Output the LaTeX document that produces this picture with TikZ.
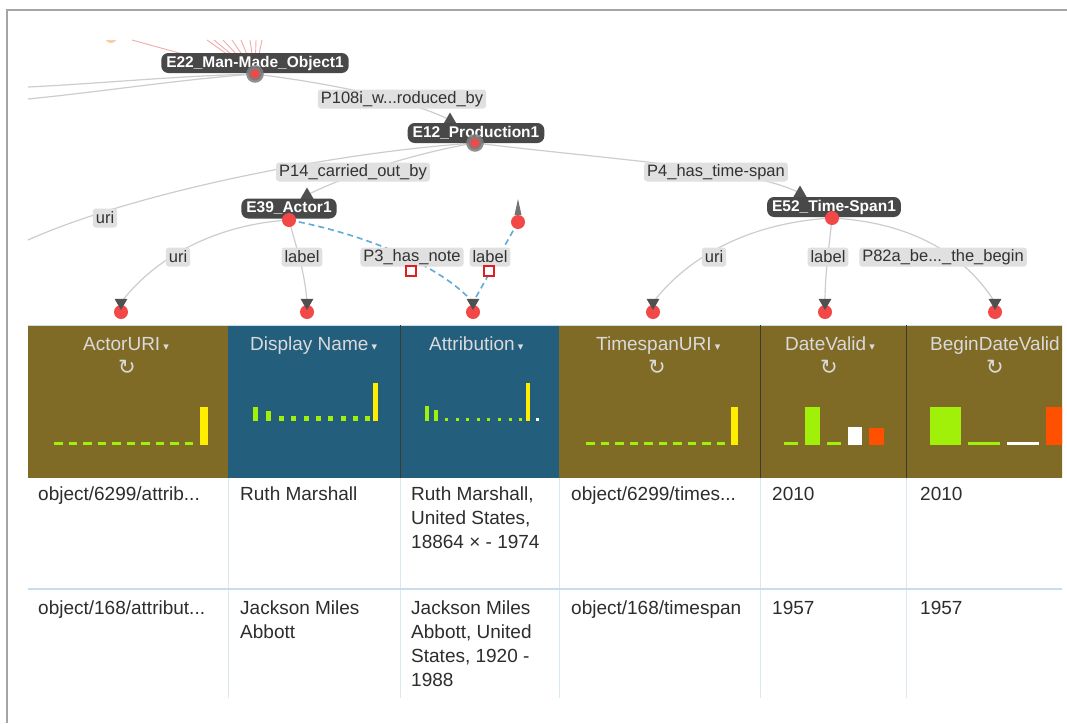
\documentclass[tikz,border=0pt]{standalone}
\usepackage{fontspec}
\setmainfont{Liberation Sans}
\newfontfamily\dejavu{DejaVu Sans}
\usetikzlibrary{shapes.geometric}
\definecolor{olivec}{RGB}{128,107,38}
\definecolor{bluec}{RGB}{35,94,124}
\definecolor{hgreen}{RGB}{160,240,10}
\definecolor{hyellow}{RGB}{255,238,0}
\definecolor{horange}{RGB}{255,80,0}
\definecolor{darklbl}{RGB}{72,72,72}
\definecolor{lblgray}{RGB}{224,224,224}
\definecolor{lbltext}{RGB}{50,50,50}
\definecolor{edgegray}{RGB}{205,205,205}
\definecolor{dotred}{RGB}{242,72,72}
\definecolor{ringgray}{RGB}{125,125,125}
\definecolor{tipgray}{RGB}{80,80,80}
\definecolor{dashblue}{RGB}{95,172,215}
\definecolor{sqred}{RGB}{225,30,30}
\definecolor{pinkc}{RGB}{245,170,170}
\definecolor{orangec}{RGB}{250,205,160}
\definecolor{hdrtext}{RGB}{218,218,218}
\definecolor{celltext}{RGB}{45,45,45}
\definecolor{gridc}{RGB}{218,232,242}
\definecolor{sepc}{RGB}{200,222,236}
\definecolor{divc}{RGB}{60,58,50}
\definecolor{framec}{RGB}{165,165,165}
\pgfdeclarelayer{bg}
\pgfdeclarelayer{edges}
\pgfsetlayers{bg,edges,main}
\begin{document}
\begin{tikzpicture}[x=1pt,y=-1pt,
  lbl/.style={fill=lblgray, rounded corners=3pt, text=lbltext, font=\fontsize{16.5}{16.5}\selectfont, inner xsep=3pt, inner ysep=1pt, minimum height=19pt},
  dlbl/.style={fill=darklbl, rounded corners=7pt, text=white, font=\bfseries\fontsize{15.5}{15.5}\selectfont, inner xsep=5pt, inner ysep=1pt, minimum height=20pt},
  rdot/.style={circle, fill=dotred, minimum size=14pt, inner sep=0pt},
  ringdot/.style={circle, fill=dotred, minimum size=13pt, inner sep=0pt, draw=ringgray, draw opacity=0.85, line width=4.5pt},
  uptri/.style={regular polygon, regular polygon sides=3, fill=tipgray, minimum size=15pt, inner sep=0pt},
  dntri/.style={uptri, shape border rotate=180},
  rsq/.style={draw=sqred, fill=white, line width=1.3pt, minimum size=10pt, inner sep=0pt},
  gedge/.style={draw=edgegray, line width=1.2pt},
  dedge/.style={draw=dashblue, line width=1.6pt, dash pattern=on 6pt off 4pt},
  pedge/.style={draw=pinkc, line width=0.9pt},
  htitle/.style={anchor=base west, text=hdrtext, font=\fontsize{19}{19}\selectfont, inner sep=0pt},
  hicon/.style={text=hdrtext, font=\dejavu\fontsize{21}{21}\selectfont, inner sep=0pt},
  cell/.style={anchor=north west, inner sep=0pt, text=celltext, font=\fontsize{19}{24}\selectfont, align=left}
]
\useasboundingbox (0,0) rectangle (1067,723);
\begin{pgfonlayer}{bg}
\fill[white] (0,0) rectangle (1067,723);
\end{pgfonlayer}

% frame
\draw[framec, line width=2.5pt] (7,723) -- (7,10) -- (1067,10);

% ---------- graph nodes ----------
\node[dlbl] (e22) at (255,63) {E22\_Man-Made\_Object1};
\node[ringdot] (dot22) at (255,74) {};
\node[lbl] (p108) at (402,99) {P108i\_w...roduced\_by};
\node[uptri] (t12) at (450,120) {};
\node[dlbl] (e12) at (476,133) {E12\_Production1};
\node[ringdot] (dot12) at (475,143) {};
\node[lbl] (p14) at (353,172) {P14\_carried\_out\_by};
\node[lbl] (p4) at (716,172) {P4\_has\_time-span};
\node[lbl] (uriA) at (105,218) {uri};
\node[uptri] (t39) at (307,195) {};
\node[dlbl] (e39) at (289,208.5) {E39\_Actor1};
\node[rdot] (dot39) at (289,220) {};
\node[uptri] (t52) at (800,193) {};
\node[dlbl] (e52) at (834,207) {E52\_Time-Span1};
\node[rdot] (dot52) at (832,218) {};
\fill[tipgray!80] (514.5,215) -- (518,199) -- (521.5,215) -- cycle;
\node[rdot] (dotx) at (518,222) {};

\node[lbl] (uriB) at (178,257) {uri};
\node[lbl] (labB) at (302,257) {label};
\node[lbl] (p3) at (412,257) {P3\_has\_note};
\node[lbl] (labC) at (490,257) {label};
\node[lbl] (uriD) at (714,257) {uri};
\node[lbl] (labD) at (828,257) {label};
\node[lbl] (p82) at (943,257) {P82a\_be...\_the\_begin};
\node[rsq] (sq1) at (411,271) {};
\node[rsq] (sq2) at (489,271) {};

\foreach \n/\x in {1/121,2/307,3/473,4/653,5/825,6/995}{
  \node[rdot] (b\n) at (\x,312) {};
  \node[dntri] (tb\n) at (\x,302.5) {};
}

\coordinate (lA) at (28,87);
\coordinate (lB) at (28,99);
\coordinate (lC) at (28,240);
\foreach \i/\x in {1/132,2/207,3/214,4/223,5/232,6/241,7/250,8/256,9/262}{
  \coordinate (pk\i) at (\x,40);
}
\coordinate (orb) at (111,37);

% ---------- graph edges ----------
\begin{pgfonlayer}{edges}
\fill[orangec] (orb) circle (6pt);
\fill[white] (90,20) rectangle (140,40);
\foreach \i in {1,...,9}{ \draw[pedge] (dot22.center) -- (pk\i); }
\draw[gedge] (dot22.center) .. controls +(-80,2) and +(80,-4) .. (lA);
\draw[gedge] (dot22.center) .. controls +(-80,6) and +(80,-8) .. (lB);
\draw[gedge] (dot22.center) .. controls +(80,10) and +(-40,-20) .. (t12.center);
\draw[gedge] (dot12.center) .. controls +(-150,10) and +(100,-45) .. (lC);
\draw[gedge] (dot12.center) .. controls +(-60,10) and +(40,-20) .. (t39.center);
\draw[gedge] (dot12.center) .. controls +(150,18) and +(-50,-25) .. (t52.center);
\draw[gedge] (dot39.center) .. controls +(-80,5) and +(30,-40) .. (tb1.center);
\draw[gedge] (dot39.center) .. controls +(8,30) and +(-2,-30) .. (tb2.center);
\draw[dedge] (dot39.center) .. controls +(80,15) and +(-30,-35) .. (tb3.center);
\draw[dedge] (dotx.center) -- (tb3.center);
\draw[gedge] (dot52.center) .. controls +(-90,5) and +(30,-40) .. (tb4.center);
\draw[gedge] (dot52.center) .. controls +(-3,30) and +(0,-30) .. (tb5.center);
\draw[gedge] (dot52.center) .. controls +(90,5) and +(-25,-40) .. (tb6.center);
\end{pgfonlayer}

% ---------- table ----------
\begin{scope}
\clip (0,320) rectangle (1062,723);
\fill[olivec] (28,325) rectangle (228,478);
\fill[bluec] (228,325) rectangle (559,478);
\fill[olivec] (559,325) rectangle (1067,478);
\draw[sepc, line width=1pt] (28,325) -- (1067,325);
\foreach \x in {400,760,906}{ \draw[divc, line width=1pt] (\x,325) -- (\x,478); }

% titles
\node[htitle] (h1) at (83,350) {ActorURI\,{\dejavu\fontsize{11}{11}\selectfont ▾}};
\node[htitle] (h2) at (250,350) {Display Name\,{\dejavu\fontsize{11}{11}\selectfont ▾}};
\node[htitle] (h3) at (429,350) {Attribution\,{\dejavu\fontsize{11}{11}\selectfont ▾}};
\node[htitle] (h4) at (596,350) {TimespanURI\,{\dejavu\fontsize{11}{11}\selectfont ▾}};
\node[htitle] (h5) at (785,350) {DateValid\,{\dejavu\fontsize{11}{11}\selectfont ▾}};
\node[htitle] (h6) at (930,350) {BeginDateValid\,{\dejavu\fontsize{11}{11}\selectfont ▾}};
\node[hicon] (r1) at (127,367) {↻};
\node[hicon] (r4) at (657,367) {↻};
\node[hicon] (r5) at (829,367) {↻};
\node[hicon] (r6) at (995,367) {↻};

% histograms
\foreach \i in {0,...,9}{
  \fill[hgreen] (54+\i*14.5,441.5) rectangle (62.5+\i*14.5,444.5);
  \fill[hgreen] (586+\i*14.5,441.5) rectangle (594.5+\i*14.5,444.5);
}
\fill[hyellow] (200,407) rectangle (208,444.5);
\fill[hyellow] (731,407) rectangle (738,444.5);
% Display Name
\fill[hgreen] (253,407) rectangle (258,421);
\fill[hgreen] (266,411) rectangle (271,421);
\foreach \i in {0,...,7}{ \fill[hgreen] (279+\i*12.3,415.5) rectangle (284+\i*12.3,421); }
\fill[hyellow] (373,383) rectangle (378,421);
% Attribution
\fill[hgreen] (425,406) rectangle (429,421);
\fill[hgreen] (434,410) rectangle (438,421);
\foreach \i in {0,...,7}{ \fill[hgreen] (445+\i*10.6,417.5) rectangle (448+\i*10.6,421); }
\fill[hyellow] (526,383) rectangle (530,421);
\fill[white] (536,417.5) rectangle (539,421);
% DateValid
\fill[hgreen] (784,441.5) rectangle (798,444.5);
\fill[hgreen] (805,407) rectangle (820,444.5);
\fill[hgreen] (827,441.5) rectangle (841,444.5);
\fill[white] (848,427) rectangle (862,444.5);
\fill[horange] (869,428) rectangle (884,444.5);
% BeginDateValid
\fill[hgreen] (930,407) rectangle (961,444.5);
\fill[hgreen] (968,441.5) rectangle (1000,444.5);
\fill[white] (1007,441.5) rectangle (1039,444.5);
\fill[horange] (1046,407) rectangle (1070,444.5);

% grid
\foreach \x in {228,400,559,760,906}{ \draw[gridc, line width=1pt] (\x,478) -- (\x,698); }
\draw[sepc, line width=2pt] (28,589) -- (1067,589);

% cells
\node[cell] (c11) at (38,487) {object/6299/attrib...};
\node[cell] (c12) at (240,487) {Ruth Marshall};
\node[cell] (c13) at (411,487) {Ruth Marshall,\\United States,\\18864 × - 1974};
\node[cell] (c14) at (571,487) {object/6299/times...};
\node[cell] (c15) at (772,487) {2010};
\node[cell] (c16) at (920,487) {2010};
\node[cell] (c21) at (38,601) {object/168/attribut...};
\node[cell] (c22) at (240,601) {Jackson Miles\\Abbott};
\node[cell] (c23) at (411,601) {Jackson Miles\\Abbott, United\\States, 1920 -\\1988};
\node[cell] (c24) at (571,601) {object/168/timespan};
\node[cell] (c25) at (772,601) {1957};
\node[cell] (c26) at (920,601) {1957};
\end{scope}
\end{tikzpicture}
\end{document}
